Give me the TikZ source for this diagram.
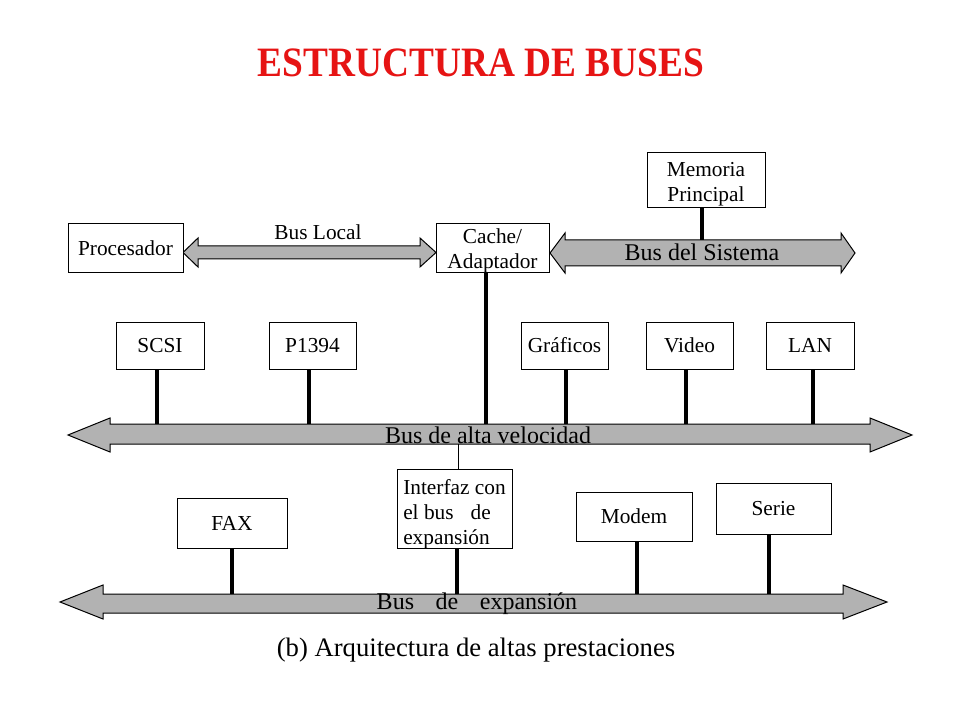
\documentclass[tikz,border=0pt]{standalone}
\usepackage{fontspec}
\setmainfont{Liberation Serif}
\definecolor{titlered}{RGB}{230,20,20}
\definecolor{busgray}{RGB}{178,178,178}
\tikzset{
  box/.style={draw=black, line width=0.75pt, fill=white, inner sep=0pt, font=\fontsize{16}{18.8}\selectfont, align=center},
  boxtext/.style={inner sep=0pt, font=\fontsize{16}{18.9}\selectfont},
  link/.style={line width=3.6pt},
  thinlink/.style={line width=0.75pt},
  bus/.style={draw=black, line width=0.75pt, fill=busgray},
  buslabel/.style={inner sep=0pt, font=\fontsize{18}{20}\selectfont},
}
% \busarrow{lefttip}{leftbase}{rightbase}{righttip}{shafttop}{shaftbottom}{headtop}{headbottom}
\newcommand\busarrow[8]{%
  \path[bus] (#1,{(#7+#8)/2}) -- (#2,#7) -- (#2,#5) -- (#3,#5) -- (#3,#7) -- (#4,{(#7+#8)/2})
    -- (#3,#8) -- (#3,#6) -- (#2,#6) -- (#2,#8) -- cycle;}
\begin{document}
\begin{tikzpicture}[x=0.75pt,y=-0.75pt]
\useasboundingbox (0,0) rectangle (960,720);
\fill[white] (0,0) rectangle (960,720);

% title
\node[inner sep=0pt, text=titlered, font=\fontsize{28}{30}\selectfont\bfseries, yscale=1.12] (title) at (481,63) {ESTRUCTURA DE BUSES};

% buses
\busarrow{183}{198}{420}{436}{246}{259}{238}{267}
\busarrow{550}{565}{841}{855}{240}{266}{233}{273}
\busarrow{68}{110}{870}{912}{424}{444}{418}{452}
\busarrow{60}{103}{843}{887}{594}{613}{585}{619}

\node[buslabel, font=\fontsize{16}{18}\selectfont] (lblLocal) at (318,232) {Bus Local};
\node[buslabel] (lblSist) at (702,252) {Bus del Sistema};
\node[buslabel] (lblAlta) at (488,435) {Bus de alta velocidad};
\node[buslabel] (lblExp) at (477,604) {Bus\hspace{0.9em}de\hspace{0.9em}expansión};

% top row
\node[box, minimum width=86.25pt, minimum height=36.75pt] (proc) at (125.5,248.5) {Procesador};
\node[box, minimum width=84.75pt, minimum height=36.75pt] (cache) at (492.5,248.5) {};
\node[boxtext, align=center] (cacheT) at (492.5,251) {Cache/\\Adaptador};
\node[box, minimum width=88.5pt, minimum height=41.25pt] (mem) at (706,180.5) {};
\node[boxtext, align=center] (memT) at (706,184) {Memoria\\Principal};

% second row
\node[box, minimum width=66pt, minimum height=35.25pt] (scsi) at (160,345.5) {SCSI};
\node[box, minimum width=65.25pt, minimum height=35.25pt] (p1394) at (312.5,345.5) {P1394};
\node[box, minimum width=65.25pt, minimum height=35.25pt] (graf) at (564.5,345.5) {Gráficos};
\node[box, minimum width=65.25pt, minimum height=35.25pt] (video) at (689.5,345.5) {Video};
\node[box, minimum width=66pt, minimum height=35.25pt] (lan) at (810,345.5) {LAN};

% third row
\node[box, minimum width=82.5pt, minimum height=37.5pt] (fax) at (232,523) {FAX};
\node[box, minimum width=86.25pt, minimum height=59.25pt] (inter) at (454.5,508.5) {};
\node[boxtext, align=left, anchor=west] (interT) at (403,514) {Interfaz con\\el bus\hspace{0.8em}de\\expansión};
\node[box, minimum width=87pt, minimum height=36.75pt] (modem) at (634,516.5) {Modem};
\node[box, minimum width=86.25pt, minimum height=38.25pt] (serie) at (773.5,508.5) {Serie};

% connection points on buses
\coordinate (sysMem) at (702,240);
\coordinate (altaCache) at (486,424);
\coordinate (altaScsi) at (157,424);
\coordinate (altaP) at (309,424);
\coordinate (altaG) at (566,424);
\coordinate (altaV) at (686,424);
\coordinate (altaL) at (813,424);
\coordinate (altaBot) at (458,444);
\coordinate (expFax) at (232,594);
\coordinate (expInt) at (457,594);
\coordinate (expMod) at (637,594);
\coordinate (expSer) at (769,594);

\draw[link] (mem.south -| sysMem) -- (sysMem);
\draw[link] (cache.south -| altaCache) -- (altaCache);
\draw[link] (scsi.south -| altaScsi) -- (altaScsi);
\draw[link] (p1394.south -| altaP) -- (altaP);
\draw[link] (graf.south -| altaG) -- (altaG);
\draw[link] (video.south -| altaV) -- (altaV);
\draw[link] (lan.south -| altaL) -- (altaL);
\draw[thinlink] (altaBot) -- (inter.north -| altaBot);
\draw[link] (fax.south -| expFax) -- (expFax);
\draw[link] (inter.south -| expInt) -- (expInt);
\draw[link] (modem.south -| expMod) -- (expMod);
\draw[link] (serie.south -| expSer) -- (expSer);

% caption
\node[inner sep=0pt, font=\fontsize{20}{22}\selectfont] (caption) at (476,650) {(b) Arquitectura de altas prestaciones};
\end{tikzpicture}
\end{document}
